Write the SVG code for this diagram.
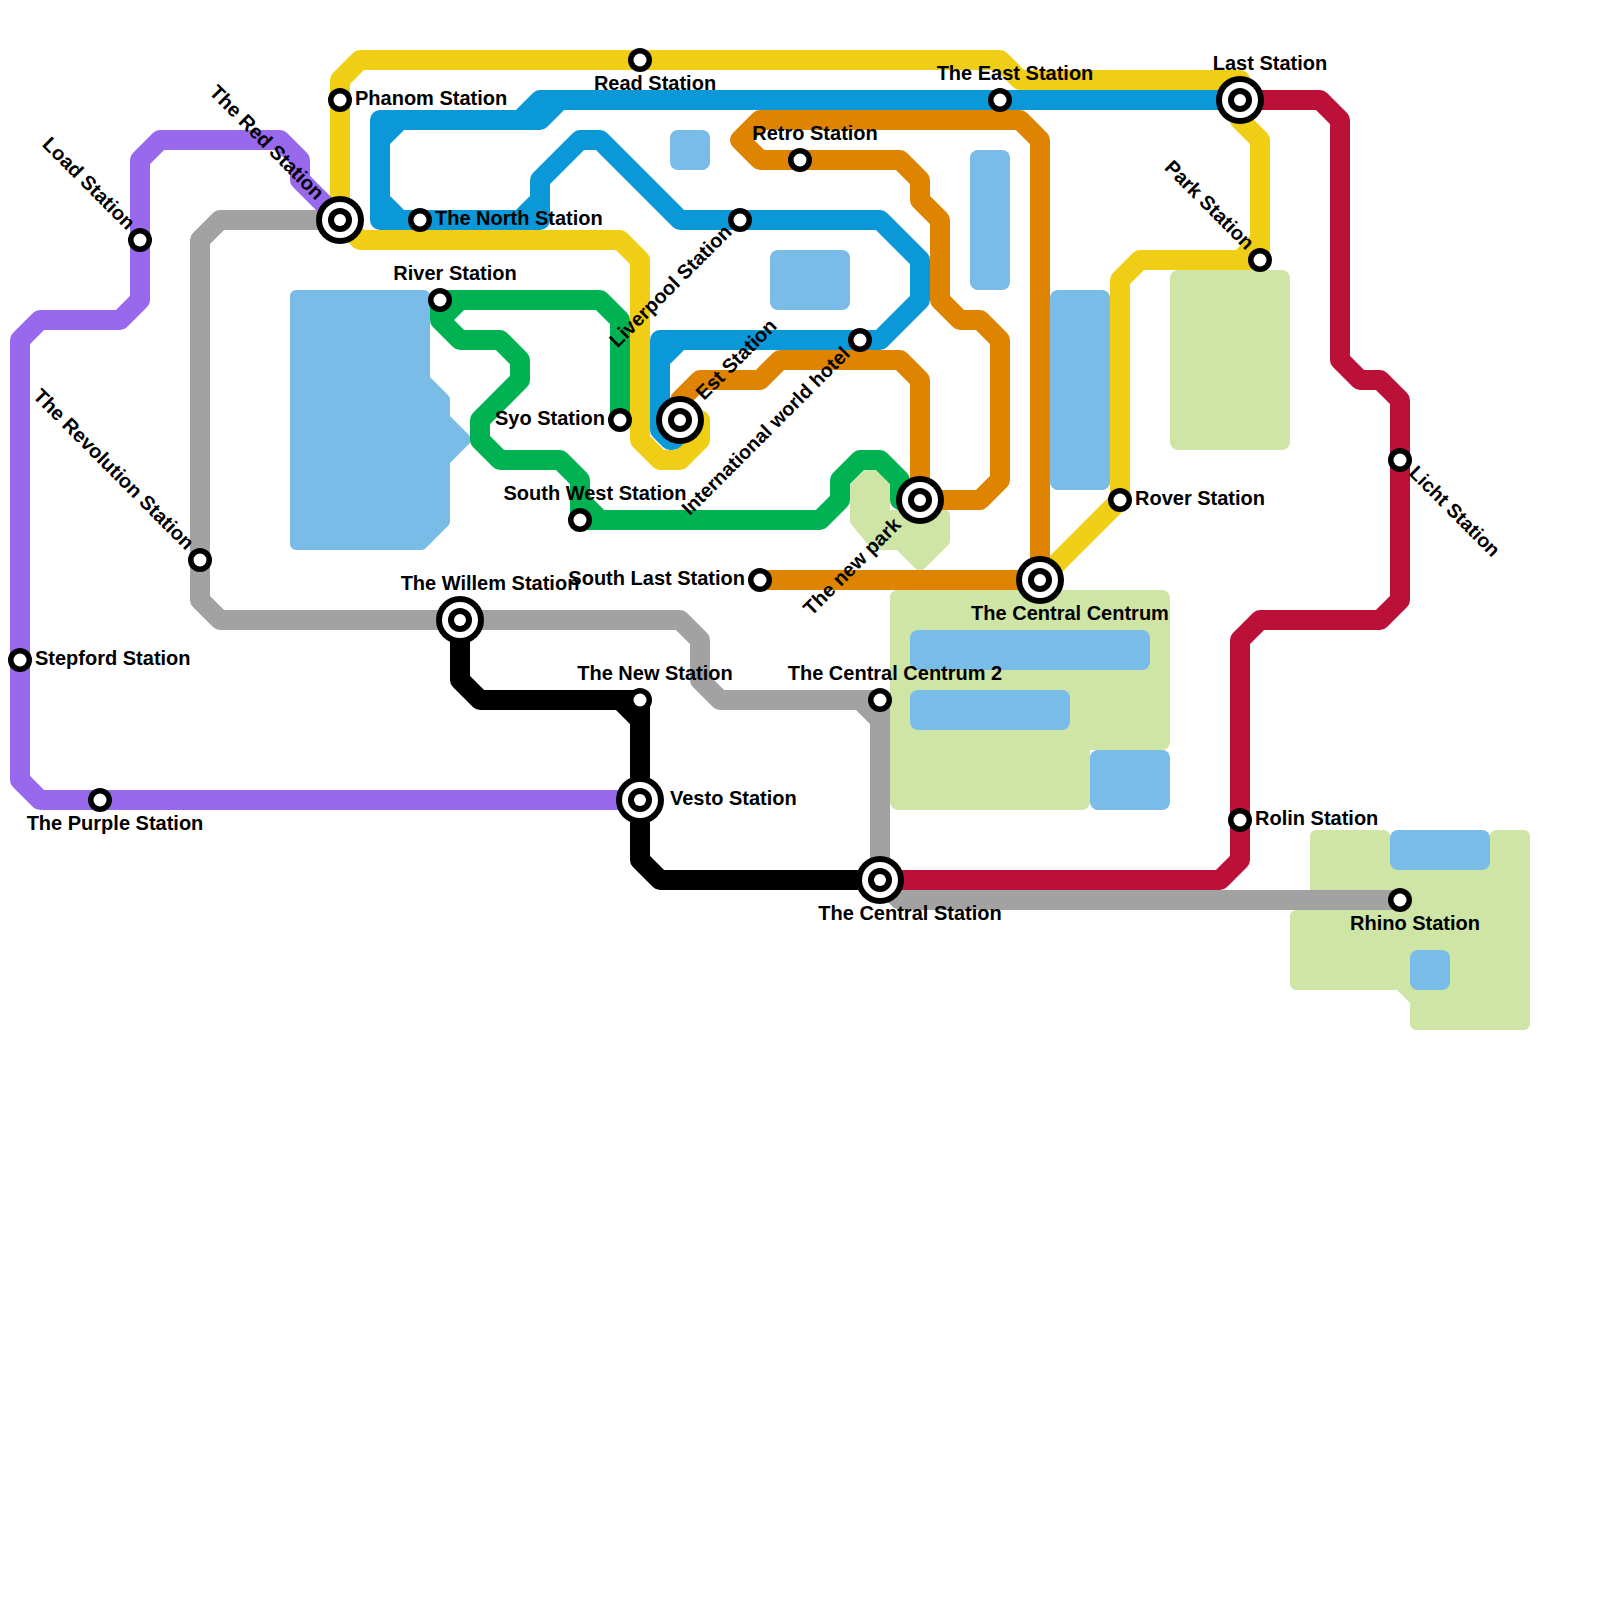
<svg xmlns="http://www.w3.org/2000/svg" width="1600" height="1600" viewBox="0 0 1600 1600">
<style>
.l{fill:none;stroke-width:20;stroke-linejoin:round;stroke-linecap:butt}
.w{fill:#79bce8}
.wp{fill:#79bce8;stroke:#79bce8;stroke-width:12;stroke-linejoin:round}
.p{fill:#cfe5a5}
.pp{fill:#cfe5a5;stroke:#cfe5a5;stroke-width:12;stroke-linejoin:round}
.pq{fill:#cfe5a5;stroke:#cfe5a5;stroke-width:10;stroke-linejoin:round}
.o{fill:#000}
.i{fill:#fff}
text{font-family:"Liberation Sans",Arial,sans-serif;font-size:20px;font-weight:700;fill:#000}
.e{text-anchor:end}
.m{text-anchor:middle}
.t{font-size:19.65px}
</style>
<defs>
<g id="s"><circle r="12" class="o"/><circle r="6.5" class="i"/></g>
<g id="x"><circle r="24" class="o"/><circle r="18" class="i"/><circle r="12" class="o"/><circle r="6" class="i"/></g>
</defs>
<g id="terrain">
<rect class="p" x="890" y="590" width="280" height="160" rx="8"/>
<rect class="p" x="890" y="590" width="200" height="220" rx="8"/>
<polygon class="pq" points="855,487 867,475 875,475 885,485 885,515 945,515 945,541 920,566 899,545 875,545 855,521"/>
<rect class="p" x="1170" y="270" width="120" height="180" rx="8"/>
<polygon class="pp" points="1316,836 1384,836 1384,866 1496,866 1496,836 1524,836 1524,1024 1416,1024 1416,1000.5 1399.5,984 1296,984 1296,916 1316,916"/>
<polygon class="wp" points="296,296 424,296 424,379.5 444,399.5 444,418.5 465,439.5 444,460.5 444,521.5 421.5,544 296,544"/>
<rect class="w" x="670" y="130" width="40" height="40" rx="8"/>
<rect class="w" x="970" y="150" width="40" height="140" rx="8"/>
<rect class="w" x="770" y="250" width="80" height="60" rx="8"/>
<rect class="w" x="1050" y="290" width="60" height="200" rx="8"/>
<rect class="w" x="910" y="630" width="240" height="40" rx="8"/>
<rect class="w" x="910" y="690" width="160" height="40" rx="8"/>
<rect class="w" x="1090" y="750" width="80" height="60" rx="8"/>
<rect class="w" x="1390" y="830" width="100" height="40" rx="8"/>
<rect class="w" x="1410" y="950" width="40" height="40" rx="8"/>
</g>
<g id="connectors">
<path class="l" stroke="#f0ce15" d="M340 220V80L360 60H1000L1020 80H1240V120L1260 140V260H1140L1120 280V500L1040 580"/>
<path class="l" stroke="#f0ce15" d="M1260 240L1240 260"/>
<path class="l" stroke="#f0ce15" d="M340 220L360 240H620L640 260V440L660 460H680L700 440V420H680"/>
<path class="l" stroke="#a2a2a2" d="M340 220H220L200 240V600L220 620H680L700 640V680L720 700H880V880L900 900H1400"/>
<path class="l" stroke="#a2a2a2" d="M860 700L880 720"/>
<path class="l" stroke="#9868ed" d="M640 800H40L20 780V340L40 320H120L140 300V160L160 140H280L300 160V180L340 220"/>
<path class="l" stroke="#0a98d8" d="M1240 100H540L520 120H380V220H540V180L580 140H600L680 220H880L920 260V300L880 340H660V430L670 440H673L690 423"/>
<path class="l" stroke="#0a98d8" d="M400 120L380 140V200L400 220M520 220L540 200M680 340L660 360M520 120H540L560 100"/>
<path class="l" stroke="#de8400" d="M680 420V400L700 380H760L780 360H900L920 380V500H980L1000 480V340L980 320H960L940 300V220L920 200V180L900 160H760L740 140L760 120H1020L1040 140V580H760"/>
<path class="l" stroke="#00b251" d="M620 420V320L600 300H440V320L460 340H500L520 360V380L480 420V440L500 460H560L580 480V520H820L840 500V480L860 460H880L900 480V500H920"/>
<path class="l" stroke="#00b251" d="M460 300L440 320M580 500L600 520"/>
<path class="l" stroke="#bb1138" d="M1240 100H1320L1340 120V360L1360 380H1380L1400 400V600L1380 620H1260L1240 640V860L1220 880H880"/>
<path class="l" stroke="#000" d="M460 620V680L480 700H640V860L660 880H880"/>
<path class="l" stroke="#000" d="M620 700L640 720"/>
</g>
<g id="stepford"><use href="#s" x="20" y="660"/><text x="35" y="665">Stepford Station</text></g>
<g id="purple"><use href="#s" x="100" y="800"/><text class="m" x="115" y="830">The Purple Station</text></g>
<g id="load"><use href="#s" x="140" y="240"/><text class="e" transform="rotate(45 127 231)" x="127" y="231">Load Station</text></g>
<g id="revolution"><use href="#s" x="200" y="560"/><text class="e" transform="rotate(45 186 551)" x="186" y="551">The Revolution Station</text></g>
<g id="red"><use href="#x" x="340" y="220"/><text class="e" transform="rotate(45 316 201)" x="316" y="201">The Red Station</text></g>
<g id="phanom"><use href="#s" x="340" y="100"/><text x="355" y="105">Phanom Station</text></g>
<g id="read"><use href="#s" x="640" y="60"/><text class="m" x="655" y="90">Read Station</text></g>
<g id="east"><use href="#s" x="1000" y="100"/><text class="m" x="1015" y="80">The East Station</text></g>
<g id="last"><use href="#x" x="1240" y="100"/><text class="m" x="1270" y="70">Last Station</text></g>
<g id="retro"><use href="#s" x="800" y="160"/><text class="m" x="815" y="140">Retro Station</text></g>
<g id="north"><use href="#s" x="420" y="220"/><text x="435" y="225">The North Station</text></g>
<g id="river"><use href="#s" x="440" y="300"/><text class="m" x="455" y="280">River Station</text></g>
<g id="syo"><use href="#s" x="620" y="420"/><text class="e" x="605" y="425">Syo Station</text></g>
<g id="southwest"><use href="#s" x="580" y="520"/><text class="m" x="595" y="500">South West Station</text></g>
<g id="liverpool"><use href="#s" x="740" y="220"/><text class="e" transform="rotate(-45 733 233)" x="733" y="233">Liverpool Station</text></g>
<g id="est"><use href="#x" x="680" y="420"/><text transform="rotate(-45 704 401)" x="704" y="401">Est Station</text></g>
<g id="hotel"><use href="#s" x="860" y="340"/><text class="e t" transform="rotate(-45 851 355)" x="851" y="355">International world hotel</text></g>
<g id="newpark"><use href="#x" x="920" y="500"/><text class="e" transform="rotate(-45 902 526)" x="902" y="526">The new park</text></g>
<g id="southlast"><use href="#s" x="760" y="580"/><text class="e" x="745" y="585">South Last Station</text></g>
<g id="centrum"><use href="#x" x="1040" y="580"/><text class="m" x="1070" y="620">The Central Centrum</text></g>
<g id="park"><use href="#s" x="1260" y="260"/><text class="e" transform="rotate(45 1246 251)" x="1246" y="251">Park Station</text></g>
<g id="rover"><use href="#s" x="1120" y="500"/><text x="1135" y="505">Rover Station</text></g>
<g id="licht"><use href="#s" x="1400" y="460"/><text class="t" transform="rotate(45 1408 474)" x="1408" y="474">Licht Station</text></g>
<g id="willem"><use href="#x" x="460" y="620"/><text class="m" x="490" y="590">The Willem Station</text></g>
<g id="new"><use href="#s" x="640" y="700"/><text class="m" x="655" y="680">The New Station</text></g>
<g id="centrum2"><use href="#s" x="880" y="700"/><text class="m" x="895" y="680">The Central Centrum 2</text></g>
<g id="vesto"><use href="#x" x="640" y="800"/><text x="670" y="805">Vesto Station</text></g>
<g id="central"><use href="#x" x="880" y="880"/><text class="m" x="910" y="920">The Central Station</text></g>
<g id="rolin"><use href="#s" x="1240" y="820"/><text x="1255" y="825">Rolin Station</text></g>
<g id="rhino"><use href="#s" x="1400" y="900"/><text class="m" x="1415" y="930">Rhino Station</text></g>
</svg>
